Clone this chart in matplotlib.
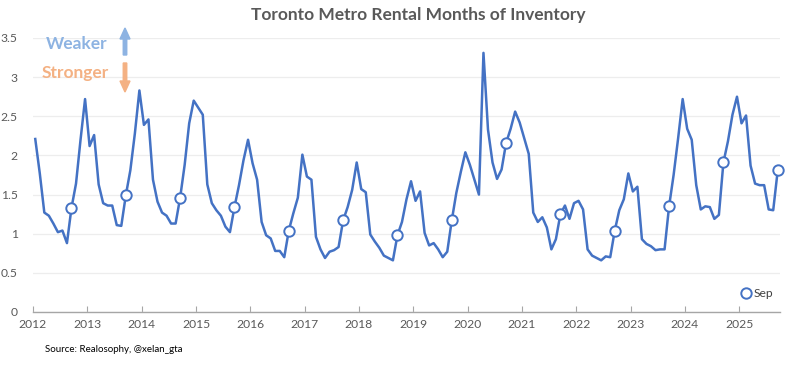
import matplotlib
matplotlib.use("Agg")
import matplotlib.pyplot as plt
import numpy as np

plt.rcParams['font.family'] = ['Lato', 'DejaVu Sans']

start_year = 2012
values_2012 = [2.21, 1.77, 1.27, 1.23, 1.13, 1.02, 1.04, 0.88, 1.33, 1.64, 2.20, 2.72]
values_2013 = [2.12, 2.26, 1.63, 1.39, 1.36, 1.36, 1.11, 1.10, 1.49, 1.81, 2.28, 2.83]
values_2014 = [2.39, 2.46, 1.69, 1.41, 1.27, 1.23, 1.13, 1.13, 1.46, 1.88, 2.41, 2.70]
values_2015 = [2.61, 2.52, 1.63, 1.39, 1.30, 1.23, 1.09, 1.02, 1.34, 1.62, 1.94, 2.20]
values_2016 = [1.90, 1.69, 1.15, 0.98, 0.94, 0.78, 0.78, 0.70, 1.04, 1.26, 1.46, 2.01]
values_2017 = [1.73, 1.69, 0.96, 0.80, 0.69, 0.77, 0.79, 0.83, 1.17, 1.34, 1.56, 1.91]
values_2018 = [1.57, 1.53, 0.99, 0.90, 0.82, 0.72, 0.69, 0.66, 0.98, 1.15, 1.44, 1.67]
values_2019 = [1.42, 1.54, 1.01, 0.85, 0.88, 0.80, 0.70, 0.77, 1.17, 1.52, 1.79, 2.04]
values_2020 = [1.88, 1.69, 1.50, 3.31, 2.33, 1.91, 1.70, 1.82, 2.16, 2.34, 2.56, 2.42]
values_2021 = [2.22, 2.02, 1.27, 1.15, 1.21, 1.08, 0.80, 0.93, 1.25, 1.36, 1.19, 1.39]
values_2022 = [1.42, 1.31, 0.80, 0.72, 0.69, 0.66, 0.71, 0.70, 1.04, 1.30, 1.44, 1.77]
values_2023 = [1.54, 1.60, 0.93, 0.87, 0.84, 0.79, 0.80, 0.80, 1.35, 1.75, 2.22, 2.72]
values_2024 = [2.34, 2.20, 1.62, 1.31, 1.35, 1.34, 1.19, 1.24, 1.91, 2.18, 2.52, 2.75]
values_2025 = [2.41, 2.51, 1.87, 1.64, 1.62, 1.62, 1.31, 1.30, 1.81]

year_labels = ['2012', '2013', '2014', '2015', '2016', '2017', '2018', '2019',
               '2020', '2021', '2022', '2023', '2024', '2025']
y_ticks = [0, 0.5, 1, 1.5, 2, 2.5, 3, 3.5]
y_tick_labels = ['0', '0.5', '1', '1.5', '2', '2.5', '3', '3.5']

values = np.array(values_2012 + values_2013 + values_2014 + values_2015 + values_2016 +
                  values_2017 + values_2018 + values_2019 + values_2020 + values_2021 +
                  values_2022 + values_2023 + values_2024 + values_2025)
idx = np.arange(len(values))
x = start_year + (idx + 0.5) / 12.0
months = idx % 12
sep_mask = months == 8

fig = plt.figure(figsize=(7.94, 3.65), dpi=100)
ax = fig.add_axes([33 / 794, 1 - 312 / 365, (780 - 33) / 794, (312 - 38) / 365])

blue = '#4472C4'
ax.plot(x, values, color=blue, lw=1.8, zorder=3, clip_on=False)
ax.plot(x[sep_mask], values[sep_mask], linestyle='none', marker='o', ms=7.5,
        mfc='white', mec=blue, mew=1.4, zorder=4, label='Sep', clip_on=False)

ax.set_xlim(2012.0, 2025.75)
ax.set_ylim(0, 3.5)
ax.set_yticks(y_ticks)
ax.set_yticklabels(y_tick_labels)
ax.set_xticks([int(y) for y in year_labels])
ax.set_xticklabels(year_labels)
ax.grid(axis='y', color='#EDEDED', lw=0.9)
ax.set_axisbelow(True)
for s in ['top', 'right', 'left']:
    ax.spines[s].set_visible(False)
ax.spines['bottom'].set_color('#A6A6A6')
ax.spines['bottom'].set_linewidth(1.0)
ax.tick_params(axis='x', direction='in', length=4, color='#A6A6A6', labelsize=8.7,
               labelcolor='#595959', pad=5)
ax.tick_params(axis='y', length=0, labelsize=8.7, labelcolor='#595959', pad=11)

fig.text(418 / 794, 1 - 15 / 365, 'Toronto Metro Rental Months of Inventory',
         ha='center', va='center', fontsize=12.5, fontweight='bold', color='#595959')

fig.text(46 / 794, 1 - 44 / 365, 'Weaker', ha='left', va='center', fontsize=12.5,
         fontweight='bold', color='#8DB3E2')
fig.text(42 / 794, 1 - 73 / 365, 'Stronger', ha='left', va='center', fontsize=12.5,
         fontweight='bold', color='#F4B183')
fig.patches.append(matplotlib.patches.FancyArrow(
    125 / 794, 1 - 55 / 365, 0, 27 / 365, width=3.5 / 794, head_width=10 / 794,
    head_length=11 / 365, length_includes_head=True, color='#8DB3E2',
    transform=fig.transFigure, figure=fig))
fig.patches.append(matplotlib.patches.FancyArrow(
    125 / 794, 1 - 63 / 365, 0, -29 / 365, width=3.5 / 794, head_width=10 / 794,
    head_length=11 / 365, length_includes_head=True, color='#F4B183',
    transform=fig.transFigure, figure=fig))

leg = ax.legend(loc='lower right', bbox_to_anchor=(1.0, 0.02), frameon=False,
                fontsize=8.7, handletextpad=0.1, handlelength=1.0, borderaxespad=0.2)
for t in leg.get_texts():
    t.set_color('#404040')

fig.text(45 / 794, 1 - 350 / 365, 'Source: Realosophy, @xelan_gta', ha='left',
         va='center', fontsize=7, color='black')

fig.savefig('out.png', dpi=100)
